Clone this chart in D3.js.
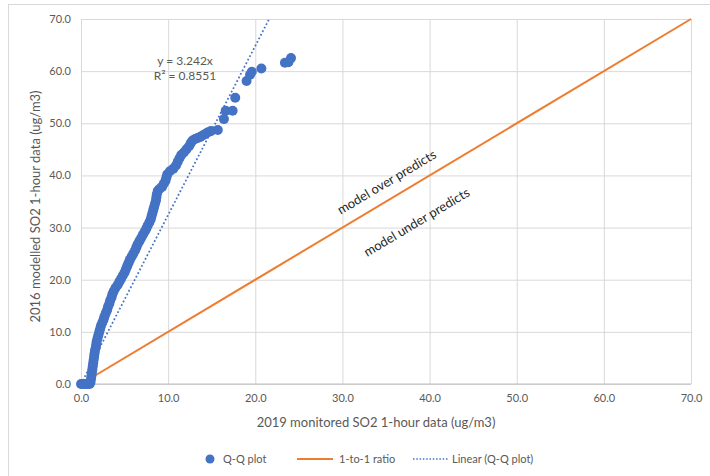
<!DOCTYPE html>
<html>
<head>
<meta charset="utf-8">
<script src="https://cdn.jsdelivr.net/npm/d3@7"></script>
<style>
  html, body { margin: 0; padding: 0; background: #fff; }
  svg { display: block; font-family: Lato, "Open Sans", sans-serif; }
</style>
</head>
<body>
<svg id="chart" width="710" height="476"></svg>
<script>
// Sorted quantile pairs: 2019 monitored vs 2016 modelled SO2 1-hour (ug/m3)
const monitored = [
  0.0, 0.2, 0.4, 0.6, 0.8, 1.0, 1.1, 1.15, 1.2, 1.25, 1.3, 1.35, 1.4, 1.45, 1.5, 1.55,
  1.6, 1.7, 1.75, 1.8, 1.9, 2.0, 2.1, 2.2, 2.3, 2.45, 2.6, 2.7, 2.85, 3.0, 3.1, 3.25,
  3.35, 3.5, 3.6, 3.75, 3.95, 4.2, 4.4, 4.6, 4.8, 5.0, 5.15, 5.3, 5.45, 5.6, 5.8, 6.0,
  6.2, 6.35, 6.5, 6.7, 6.9, 7.1, 7.3, 7.5, 7.65, 7.85, 8.0, 8.1, 8.2, 8.3, 8.4, 8.5,
  8.6, 8.65, 8.7, 8.8, 9.0, 9.3, 9.5, 9.7, 9.8, 9.9, 10.2, 10.6, 10.9, 11.1, 11.3, 11.5,
  11.8, 12.1, 12.4, 12.6, 12.8, 13.1, 13.4, 13.7, 14.0, 14.3, 14.6, 14.9, 15.7, 16.4,
  16.6, 17.4, 17.7, 19.0, 19.4, 19.6, 20.7, 23.4, 23.8, 24.1
];
const modelled = [
  0.0, 0.0, 0.0, 0.0, 0.0, 0.0, 0.4, 1.0, 1.6, 2.2, 2.8, 3.4, 4.0, 4.6, 5.2, 5.8,
  6.4, 7.0, 7.6, 8.2, 8.8, 9.4, 10.0, 10.6, 11.2, 11.8, 12.4, 13.0, 13.6, 14.2, 14.8, 15.4,
  16.0, 16.6, 17.2, 17.8, 18.4, 19.0, 19.6, 20.2, 20.8, 21.4, 22.0, 22.6, 23.2, 23.8, 24.4, 25.0,
  25.6, 26.2, 26.8, 27.4, 28.0, 28.6, 29.2, 29.8, 30.4, 31.0, 31.6, 32.2, 32.8, 33.4, 34.0, 34.6,
  35.2, 35.8, 36.4, 37.0, 37.4, 37.8, 38.4, 39.0, 39.6, 40.2, 40.8, 41.3, 41.9, 42.6, 43.3, 43.9,
  44.4, 45.0, 45.6, 46.2, 46.7, 47.0, 47.2, 47.4, 47.7, 48.0, 48.3, 48.5, 48.7, 50.8,
  52.4, 52.4, 54.9, 58.1, 59.3, 59.9, 60.5, 61.6, 61.7, 62.5
];

// Reference 1-to-1 line end points and fitted slope (trend through origin)
const oneToOne = [0, 70];
const trendSlope = 3.242;
const trendR2 = 0.8551;

// Axis ticks
const xTicks = [0, 10, 20, 30, 40, 50, 60, 70];
const yTicks = [0, 10, 20, 30, 40, 50, 60, 70];

const seriesNames = ["Q-Q plot", "1-to-1 ratio", "Linear (Q-Q plot)"];

const BLUE = "#4472C4", ORANGE = "#ED7D31", GRID = "#d9d9d9", TXT = "#595959";

const svg = d3.select("#chart");
const plot = { left: 81, right: 691, top: 19, bottom: 384 };

const x = d3.scaleLinear().domain([0, 70]).range([plot.left, plot.right]);
const y = d3.scaleLinear().domain([0, 70]).range([plot.bottom, plot.top]);

// Outer chart frame
svg.append("rect")
  .attr("x", 8.5).attr("y", 4.5).attr("width", 720).attr("height", 500)
  .attr("fill", "#fff").attr("stroke", GRID).attr("stroke-width", 1);

// Gridlines
const gx = svg.append("g")
  .attr("transform", `translate(0,${plot.bottom})`)
  .call(d3.axisBottom(x).tickValues(xTicks).tickSize(-(plot.bottom - plot.top)).tickFormat(""));
gx.select(".domain").remove();
gx.selectAll(".tick line").attr("stroke", GRID).attr("stroke-width", 1);

const gy = svg.append("g")
  .attr("transform", `translate(${plot.left},0)`)
  .call(d3.axisLeft(y).tickValues(yTicks).tickSize(-(plot.right - plot.left)).tickFormat(""));
gy.select(".domain").remove();
gy.selectAll(".tick line").attr("stroke", GRID).attr("stroke-width", 1);

// Horizontal axis line
svg.append("line")
  .attr("x1", plot.left).attr("x2", plot.right)
  .attr("y1", y(0)).attr("y2", y(0))
  .attr("stroke", "#bfbfbf").attr("stroke-width", 1);

// Tick labels
const xl = svg.append("g")
  .attr("transform", `translate(0,${plot.bottom})`)
  .call(d3.axisBottom(x).tickValues(xTicks).tickSize(0).tickPadding(10).tickFormat(d3.format(".1f")));
xl.select(".domain").remove();
xl.selectAll("text").attr("fill", TXT).style("font-size", "11px").style("font-family", "Lato, sans-serif");

const yl = svg.append("g")
  .attr("transform", `translate(${plot.left},0)`)
  .call(d3.axisLeft(y).tickValues(yTicks).tickSize(0).tickPadding(10).tickFormat(d3.format(".1f")));
yl.select(".domain").remove();
yl.selectAll("text").attr("fill", TXT).style("font-size", "11px").style("font-family", "Lato, sans-serif");

// Axis titles
svg.append("text")
  .attr("x", (plot.left + plot.right) / 2 - 10).attr("y", 427)
  .attr("text-anchor", "middle").attr("fill", TXT)
  .style("font-size", "13px")
  .text("2019 monitored SO2 1-hour data (ug/m3)");

svg.append("text")
  .attr("transform", `translate(40,${(plot.top + plot.bottom) / 2 + 5}) rotate(-90)`)
  .attr("text-anchor", "middle").attr("fill", TXT)
  .style("font-size", "13px")
  .text("2016 modelled SO2 1-hour data (ug/m3)");

// Clip to the plot area
svg.append("clipPath").attr("id", "plotClip")
  .append("rect")
  .attr("x", plot.left).attr("y", plot.top)
  .attr("width", plot.right - plot.left).attr("height", plot.bottom - plot.top + 6);

const layer = svg.append("g");

// 1-to-1 line
layer.append("line")
  .attr("x1", x(oneToOne[0])).attr("y1", y(oneToOne[0]))
  .attr("x2", x(oneToOne[1])).attr("y2", y(oneToOne[1]))
  .attr("stroke", ORANGE).attr("stroke-width", 2);

// Q-Q points
const pts = monitored.map((m, i) => ({ mx: m, my: modelled[i] }));
layer.append("g").selectAll("circle")
  .data(pts).join("circle")
  .attr("cx", d => x(d.mx)).attr("cy", d => y(d.my))
  .attr("r", 5).attr("fill", BLUE);

// Linear trendline through origin, over the monitored range
const xMax = d3.max(monitored);
layer.append("line")
  .attr("clip-path", "url(#plotClip)")
  .attr("x1", x(0)).attr("y1", y(0))
  .attr("x2", x(xMax)).attr("y2", y(trendSlope * xMax))
  .attr("stroke", BLUE).attr("stroke-width", 1.75)
  .attr("stroke-dasharray", "1.75,2.25");

// Trendline equation
svg.append("text")
  .attr("x", 185).attr("y", 65).attr("text-anchor", "middle").attr("fill", TXT)
  .style("font-size", "12px")
  .text(`y = ${trendSlope}x`);
svg.append("text")
  .attr("x", 185).attr("y", 80).attr("text-anchor", "middle").attr("fill", TXT)
  .style("font-size", "12px")
  .text(`R² = ${trendR2}`);

// Region annotations along the 1-to-1 line
const angle = -Math.atan((y(0) - y(10)) / (x(10) - x(0))) * 180 / Math.PI;
svg.append("text")
  .attr("transform", `translate(389,186) rotate(${angle})`)
  .attr("text-anchor", "middle").attr("fill", "#262626")
  .style("font-size", "13px")
  .text("model over predicts");
svg.append("text")
  .attr("transform", `translate(419,226) rotate(${angle})`)
  .attr("text-anchor", "middle").attr("fill", "#262626")
  .style("font-size", "13px")
  .text("model under predicts");

// Legend
const leg = svg.append("g").attr("transform", "translate(0,459)");
leg.append("circle").attr("cx", 210).attr("cy", 0).attr("r", 4.5).attr("fill", BLUE);
leg.append("text").attr("x", 223).attr("y", 4).attr("fill", TXT).style("font-size", "11px").text(seriesNames[0]);
leg.append("line").attr("x1", 297).attr("x2", 333).attr("y1", 0).attr("y2", 0)
  .attr("stroke", ORANGE).attr("stroke-width", 2);
leg.append("text").attr("x", 339).attr("y", 4).attr("fill", TXT).style("font-size", "11px").text(seriesNames[1]);
leg.append("line").attr("x1", 413).attr("x2", 448).attr("y1", 0).attr("y2", 0)
  .attr("stroke", BLUE).attr("stroke-width", 1.5).attr("stroke-dasharray", "1.5,1.8");
leg.append("text").attr("x", 452).attr("y", 4).attr("fill", TXT).style("font-size", "11px").text(seriesNames[2]);
</script>
</body>
</html>
